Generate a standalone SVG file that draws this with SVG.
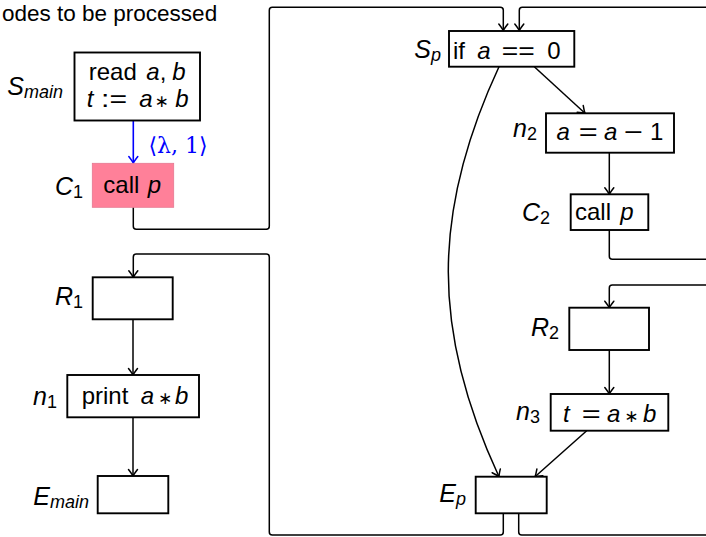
<svg xmlns="http://www.w3.org/2000/svg" width="706" height="537" viewBox="0 0 706 537">
<defs>
<marker id="ah" viewBox="-9 -6 10 12" markerWidth="10" markerHeight="12" refX="0" refY="0" orient="auto" markerUnits="userSpaceOnUse" overflow="visible">
<path d="M-6.5,-4.5 Q-2,-1 0,0 Q-2,1 -6.5,4.5" fill="none" stroke="#000" stroke-width="1.5" stroke-linecap="round"/>
</marker>
<marker id="ahb" viewBox="-9 -6 10 12" markerWidth="10" markerHeight="12" refX="0" refY="0" orient="auto" markerUnits="userSpaceOnUse" overflow="visible">
<path d="M-6.5,-4.5 Q-2,-1 0,0 Q-2,1 -6.5,4.5" fill="none" stroke="#0000ff" stroke-width="1.5" stroke-linecap="round"/>
</marker>
</defs>
<style>
.box{fill:#fff;stroke:#000;stroke-width:1.9}
.t{font-family:"Liberation Sans","DejaVu Sans",sans-serif;font-size:24px;fill:#000;text-anchor:middle}
.lb{font-family:"Liberation Sans","DejaVu Sans",sans-serif;font-size:25px;fill:#000;text-anchor:end;font-style:italic}
.sub{font-size:18px}
.up{font-style:normal}
.i{font-style:italic}
.ast{font-family:"DejaVu Sans",sans-serif;font-size:17px}
.e{fill:none;stroke:#000;stroke-width:1.5;marker-end:url(#ah)}
.p{fill:none;stroke:#000;stroke-width:1.5}
</style>
<rect width="706" height="537" fill="#fff"/>
<text x="2" y="20.5" font-family="Liberation Sans, DejaVu Sans, sans-serif" font-size="22.5" fill="#000">odes to be processed</text>

<g id="connectors">
<path d="M133.3,120.5 V163" fill="none" stroke="#0000ff" stroke-width="1.6" marker-end="url(#ahb)"/>
<path class="e" d="M133.3,207.3 V226.3 Q133.3,229.3 136.3,229.3 H266.3 Q269.3,229.3 269.3,226.3 V10.3 Q269.3,7.3 272.3,7.3 H500.3 Q503.3,7.3 503.3,10.3 V30.5"/>
<path class="e" d="M706,7.3 H522.3 Q519.3,7.3 519.3,10.3 V30.5"/>
<path class="e" d="M534.3,66.7 L585,113.3"/>
<path class="e" d="M499,66.7 C431.4,212 431.4,331.7 499,476.7"/>
<path class="e" d="M609.3,152.7 V194.3"/>
<path class="p" d="M609.3,230 V256.3 Q609.3,259.3 612.3,259.3 H706"/>
<path class="e" d="M706,285 H612.3 Q609.3,285 609.3,288 V307.7"/>
<path class="e" d="M609.3,350 V394"/>
<path class="e" d="M586.7,430.7 L535,476.7"/>
<path class="e" d="M503.3,513.3 V532 Q503.3,535 500.3,535 H272.3 Q269.3,535 269.3,532 V257 Q269.3,254 266.3,254 H136.3 Q133.3,254 133.3,257 V277.3"/>
<path class="p" d="M518.7,513.3 V532 Q518.7,535 521.7,535 H706"/>
<path class="e" d="M133,319.3 V375"/>
<path class="e" d="M133,417.3 V476"/>
<text x="178" y="153" text-anchor="middle" font-family="DejaVu Serif, Liberation Serif, serif" font-size="22" fill="#0000ff">⟨λ, 1⟩</text>
</g>

<g id="Smain">
<rect class="box" x="74.5" y="52.5" width="125.5" height="68"/>
<text class="t" y="80"><tspan x="112.8">read</tspan><tspan x="153" class="i">a</tspan><tspan x="163">,</tspan><tspan x="179" class="i">b</tspan></text>
<text class="t" y="106.5"><tspan x="90" class="i">t</tspan><tspan x="114" textLength="26" lengthAdjust="spacingAndGlyphs">:=</tspan><tspan x="146" class="i">a</tspan><tspan x="161.7" class="ast">∗</tspan><tspan x="182" class="i">b</tspan></text>
<text class="lb" x="63" y="95">S<tspan class="sub" dy="3">main</tspan></text>
</g>

<g id="C1">
<rect x="92.3" y="163.3" width="81.4" height="44" fill="#ff8099" stroke="#e57890" stroke-width="0.8"/>
<text class="t" y="192.5"><tspan x="121.3">call</tspan><tspan x="154.5" class="i">p</tspan></text>
<text class="lb" x="83" y="195">C<tspan class="sub up" dy="3">1</tspan></text>
</g>

<g id="Sp">
<rect class="box" x="449" y="31" width="125.3" height="35.7"/>
<text class="t" y="59"><tspan x="459">if</tspan><tspan x="484" class="i">a</tspan><tspan x="518.3" textLength="33" lengthAdjust="spacingAndGlyphs">==</tspan><tspan x="554">0</tspan></text>
<text class="lb" x="441" y="58">S<tspan class="sub" dy="3">p</tspan></text>
</g>

<g id="n2">
<rect class="box" x="546" y="113.3" width="128" height="39.4"/>
<text class="t" y="140"><tspan x="563.3" class="i">a</tspan><tspan x="588.3" textLength="19" lengthAdjust="spacingAndGlyphs">=</tspan><tspan x="610.8" class="i">a</tspan><tspan x="633.3" textLength="19" lengthAdjust="spacingAndGlyphs">−</tspan><tspan x="656.7">1</tspan></text>
<text class="lb" x="537" y="137">n<tspan class="sub up" dy="3">2</tspan></text>
</g>

<g id="C2">
<rect class="box" x="570.7" y="194.3" width="77.6" height="35.7"/>
<text class="t" y="220"><tspan x="593">call</tspan><tspan x="627" class="i">p</tspan></text>
<text class="lb" x="550" y="221">C<tspan class="sub up" dy="3">2</tspan></text>
</g>

<g id="R2">
<rect class="box" x="569.3" y="307.7" width="79.7" height="42.3"/>
<text class="lb" x="559" y="336">R<tspan class="sub up" dy="3">2</tspan></text>
</g>

<g id="n3">
<rect class="box" x="550.7" y="394" width="117.6" height="36.7"/>
<text class="t" y="421.5"><tspan x="566.3" class="i">t</tspan><tspan x="591.3" textLength="19" lengthAdjust="spacingAndGlyphs">=</tspan><tspan x="613.8" class="i">a</tspan><tspan x="631.3" class="ast">∗</tspan><tspan x="649.7" class="i">b</tspan></text>
<text class="lb" x="540" y="420">n<tspan class="sub up" dy="3">3</tspan></text>
</g>

<g id="Ep">
<rect class="box" x="475.7" y="476.7" width="71" height="36.6"/>
<text class="lb" x="466" y="502">E<tspan class="sub" dy="3">p</tspan></text>
</g>

<g id="R1">
<rect class="box" x="92.7" y="277.3" width="80" height="42"/>
<text class="lb" x="83" y="305">R<tspan class="sub up" dy="3">1</tspan></text>
</g>

<g id="n1">
<rect class="box" x="67.3" y="375" width="131.7" height="42.3"/>
<text class="t" y="403.5"><tspan x="105">print</tspan><tspan x="147.5" class="i">a</tspan><tspan x="165" class="ast">∗</tspan><tspan x="181.7" class="i">b</tspan></text>
<text class="lb" x="57" y="405">n<tspan class="sub up" dy="3">1</tspan></text>
</g>

<g id="Emain">
<rect class="box" x="97.7" y="476" width="70.6" height="37.3"/>
<text class="lb" x="89" y="505">E<tspan class="sub" dy="3">main</tspan></text>
</g>
</svg>
